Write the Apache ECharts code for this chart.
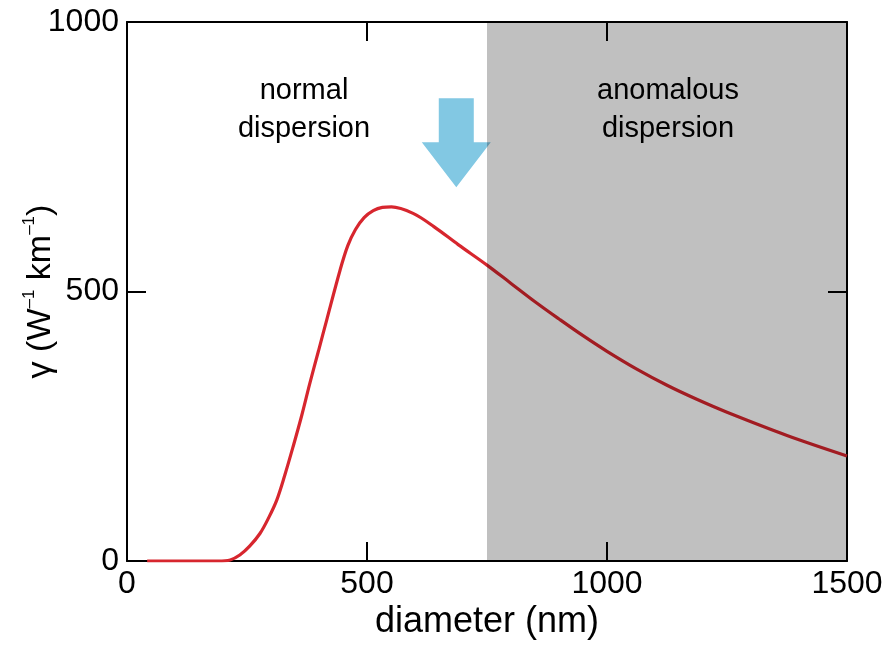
<!DOCTYPE html>
<html>
<head>
<meta charset="utf-8">
<script src="https://cdn.jsdelivr.net/npm/echarts@6/dist/echarts.min.js"></script>
<style>
  html, body { margin: 0; padding: 0; background: #fff; }
  #chart { width: 888px; height: 645px; }
</style>
</head>
<body>
<div id="chart"></div>
<script>
// curve: diameter (nm) vs gamma
const diameter = [42, 120, 190, 215, 235, 256, 277, 295, 312, 329, 346, 364, 381, 399, 416, 444, 460, 476, 494, 513, 532, 551, 596, 640, 690, 750, 800, 850, 900, 950, 1000, 1062, 1125, 1187, 1250, 1375, 1500];
const gamma = [0, 0, 0, 2, 11, 28, 51, 80, 113, 160, 212, 270, 330, 390, 447, 540, 585, 615, 637, 650, 656, 657, 645, 620, 587, 549, 515, 481, 449, 418, 389, 356, 326, 300, 276, 233, 195];
const xTicks = [0, 500, 1000, 1500];
const yTicks = [0, 500, 1000];
const anomalousFrom = 750;
const arrowAt = [686, 776];

const font = "Liberation Sans, Arial, sans-serif";
const ink = "#000";

const chart = echarts.init(document.getElementById("chart"));

const frameAxis = (extra) => Object.assign({
  type: "value",
  axisLine: { show: true, onZero: false, lineStyle: { color: ink, width: 2 } },
  axisTick: { show: true, inside: true, length: 19, lineStyle: { color: ink, width: 2 } },
  splitLine: { show: false },
}, extra);

chart.setOption({
  animation: false,
  grid: { left: 127, right: 41, top: 22, bottom: 84, containLabel: false, outerBoundsMode: "none" },
  xAxis: [
    frameAxis({
      position: "bottom", min: 0, max: 1500, interval: 500,
      axisLabel: { color: ink, fontSize: 32, fontFamily: font, margin: 7, formatter: (v) => xTicks.includes(v) ? String(v) : "" },
      name: "diameter (nm)", nameLocation: "middle", nameGap: 43, nameMoveOverlap: false,
      nameTextStyle: { color: ink, fontSize: 36, fontFamily: font },
    }),
    frameAxis({ position: "top", min: 0, max: 1500, interval: 500, axisLabel: { show: false } }),
  ],
  yAxis: [
    frameAxis({
      position: "left", min: 0, max: 1000, interval: 500,
      axisLabel: { color: ink, fontSize: 32, fontFamily: font, margin: 8, formatter: (v) => yTicks.includes(v) ? String(v) : "" },
      name: "{a|γ (W}{s|–1}{a| km}{s|–1}{a|)}", nameLocation: "middle", nameGap: 66, nameRotate: 90, nameMoveOverlap: false,
      nameTextStyle: {
        color: ink, fontFamily: font,
        rich: {
          a: { fontSize: 34, fontFamily: font, color: ink, lineHeight: 40 },
          s: { fontSize: 17, fontFamily: font, color: ink, verticalAlign: "top", lineHeight: 40 },
        },
      },
    }),
    frameAxis({ position: "right", min: 0, max: 1000, interval: 500, axisLabel: { show: false } }),
  ],
  series: [
    {
      type: "line",
      data: diameter.map((d, i) => [d, gamma[i]]),
      smooth: 0.35,
      showSymbol: false,
      lineStyle: { color: "#d7262e", width: 3.2 },
      z: 2,
    },
    {
      type: "scatter",
      data: [arrowAt],
      symbol: "path://M17 0 L52 0 L52 44 L69 44 L34.5 89 L0 44 L17 44 Z",
      symbolSize: [69, 89],
      itemStyle: { color: "#82c8e3", opacity: 1 },
      silent: true,
      z: 2,
    },
    {
      type: "line",
      data: [],
      z: 5,
      markArea: {
        silent: true,
        z: 10,
        itemStyle: { color: "rgba(0,0,0,0.247)" },
        data: [[{ xAxis: anomalousFrom }, { xAxis: 1500 }]],
      },
    },
  ],
  graphic: [
    {
      type: "text", x: 304, y: 72, z: 20,
      style: { text: "normal\ndispersion", fill: ink, font: "29px " + font, textAlign: "center", lineHeight: 38 },
    },
    {
      type: "text", x: 668, y: 72, z: 20,
      style: { text: "anomalous\ndispersion", fill: ink, font: "29px " + font, textAlign: "center", lineHeight: 38 },
    },
  ],
});
</script>
</body>
</html>
